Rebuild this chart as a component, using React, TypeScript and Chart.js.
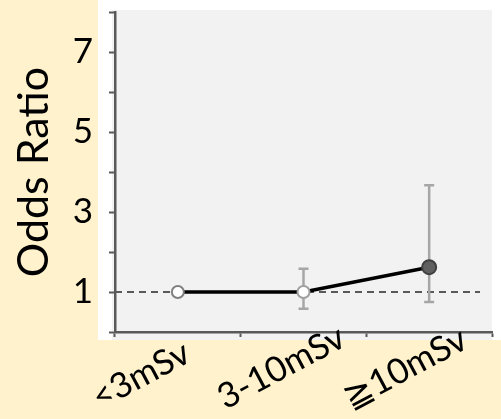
import React, { useEffect, useRef } from 'react';
import { Chart, registerables } from 'chart.js';

Chart.register(...registerables);

const categories = ['<3mSv', '3-10mSv', '≧10mSv'];
const oddsRatio = [1.0, 1.0, 1.62];
const ciLower: (number | null)[] = [null, 0.58, 0.75];
const ciUpper: (number | null)[] = [null, 1.58, 3.67];
const yTickLabels = [1, 3, 5, 7];
const referenceValue = 1;
const yTitle = 'Odds Ratio';

const FONT = 'Lato, "Open Sans", sans-serif';

const panelPlugin = {
  id: 'panelBg',
  beforeDraw(chart: any) {
    const { ctx, chartArea: a, width, height } = chart;
    ctx.save();
    ctx.fillStyle = '#FFF2CC';
    ctx.fillRect(0, 0, width, height);
    ctx.fillStyle = '#FFFFFF';
    ctx.fillRect(a.left - 17, 0, width - (a.left - 17), a.bottom + 8);
    ctx.fillStyle = '#F2F2F2';
    ctx.fillRect(a.left - 3, a.top - 2, a.right - a.left + 3, a.bottom + 8 - (a.top - 2));
    ctx.restore();
  },
  beforeDatasetsDraw(chart: any) {
    const { ctx, chartArea: a, scales } = chart;
    const x = scales.x;
    const y = scales.y;
    ctx.save();
    ctx.strokeStyle = '#595959';
    ctx.lineWidth = 2;
    ctx.setLineDash([7, 5]);
    const ry = y.getPixelForValue(referenceValue);
    ctx.beginPath();
    ctx.moveTo(a.left, ry);
    ctx.lineTo(a.right - 12, ry);
    ctx.stroke();
    ctx.setLineDash([]);
    ctx.strokeStyle = '#A6A6A6';
    ctx.lineWidth = 2.5;
    categories.forEach((_, i) => {
      const lo = ciLower[i];
      const hi = ciUpper[i];
      if (lo == null || hi == null) return;
      const px = x.getPixelForValue(i);
      const pl = y.getPixelForValue(lo);
      const ph = y.getPixelForValue(hi);
      ctx.beginPath();
      ctx.moveTo(px, pl);
      ctx.lineTo(px, ph);
      ctx.moveTo(px - 5, pl);
      ctx.lineTo(px + 5, pl);
      ctx.moveTo(px - 5, ph);
      ctx.lineTo(px + 5, ph);
      ctx.stroke();
    });
    ctx.restore();
  },
  afterDraw(chart: any) {
    const { ctx, chartArea: a, scales } = chart;
    const x = scales.x;
    ctx.save();
    ctx.fillStyle = '#000000';
    ctx.font = `35px ${FONT}`;
    ctx.textAlign = 'left';
    ctx.textBaseline = 'alphabetic';
    categories.forEach((label, i) => {
      const px = x.getPixelForValue(i);
      ctx.save();
      ctx.translate(px - 78, a.bottom + 78);
      ctx.rotate((-28 * Math.PI) / 180);
      ctx.fillText(label, 0, 0);
      ctx.restore();
    });
    ctx.restore();
  },
};

export default function App() {
  const ref = useRef<HTMLCanvasElement>(null);
  useEffect(() => {
    const chart = new Chart(ref.current!, {
      type: 'line',
      data: {
        labels: categories,
        datasets: [
          {
            data: oddsRatio,
            borderColor: '#000000',
            borderWidth: 3.5,
            pointBackgroundColor: ['#FFFFFF', '#FFFFFF', '#606060'],
            pointBorderColor: ['#808080', '#A0A0A0', '#404040'],
            pointBorderWidth: 2,
            pointRadius: [6, 6, 7],
            tension: 0,
          },
        ],
      },
      options: {
        animation: false,
        responsive: false,
        layout: { padding: { top: 12, right: 2, left: 0, bottom: 0 } },
        plugins: { legend: { display: false }, tooltip: { enabled: false } },
        scales: {
          x: {
            type: 'category',
            offset: true,
            afterFit: (s: any) => {
              s.height = 87;
              s.paddingLeft = 0;
              s.paddingRight = 0;
              s.paddingTop = 0;
              s.paddingBottom = 0;
            },
            grid: { drawOnChartArea: false, offset: true, tickLength: 5, color: '#595959', tickWidth: 2 },
            border: { color: '#595959', width: 2.5 },
            ticks: { display: false, autoSkip: false },
          },
          y: {
            min: 0,
            max: 8,
            afterFit: (s: any) => {
              s.width = 115;
              s.paddingTop = 0;
              s.paddingBottom = 0;
              s.paddingLeft = 0;
              s.paddingRight = 0;
            },
            grid: { drawOnChartArea: false, tickLength: 6, color: '#595959', tickWidth: 2 },
            border: { color: '#595959', width: 2.5 },
            ticks: {
              stepSize: 1,
              autoSkip: false,
              color: '#000000',
              font: { family: FONT, size: 35 },
              padding: 16,
              callback: (v: any) => (yTickLabels.includes(Number(v)) ? String(v) : ''),
            },
            title: {
              display: true,
              text: yTitle,
              color: '#000000',
              font: { family: FONT, size: 43 },
              padding: { top: 8, bottom: 0 },
            },
          },
        },
      },
      plugins: [panelPlugin],
    });
    return () => chart.destroy();
  }, []);
  return (
    <div style={{ position: 'fixed', left: 0, top: 0, width: 501, height: 419 }}>
      <canvas ref={ref} width={501} height={419} style={{ display: 'block' }} />
    </div>
  );
}
